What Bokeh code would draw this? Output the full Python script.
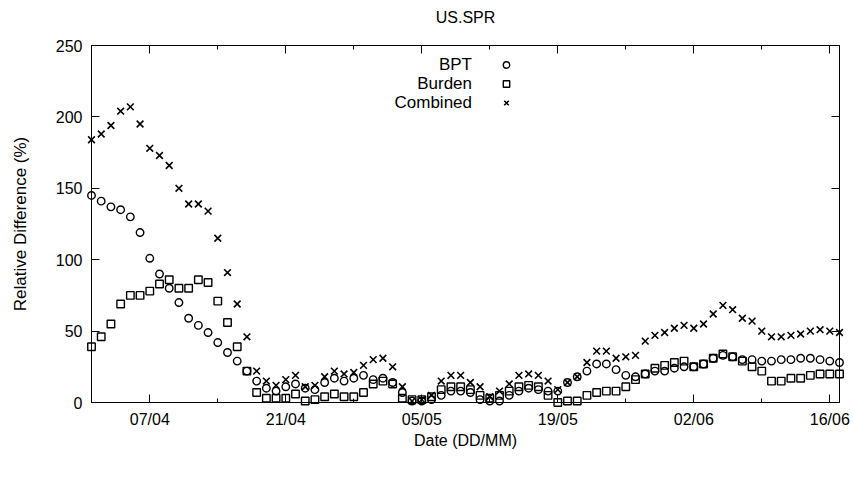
import pandas as pd
from bokeh.plotting import figure
from bokeh.models import (Range1d, DatetimeAxis, LinearAxis, FixedTicker,
                          DatetimeTickFormatter, Legend, LegendItem, Label,
                          ColumnDataSource, CustomJSTickFormatter)
from bokeh.embed import file_html
from bokeh.resources import INLINE

# ---------------- data ----------------
start_date = "2020-04-01"
end_date = "2020-06-17"
dates = pd.date_range(start_date, periods=78, freq="D")

bpt = [145, 141, 137, 135, 130, 119, 101, 90, 80, 70, 59, 54, 49, 42, 35, 29,
       22, 15, 10, 8, 11, 13, 10, 9, 14, 17, 15, 17, 19, 16, 17, 14, 7, 1, 1,
       2, 5, 8, 8, 7, 2, 1, 1, 5, 8, 10, 9, 8, 8, 14, 18, 22, 27, 27, 23, 19,
       18, 20, 22, 22, 24, 25, 25, 27, 31, 33, 32, 30, 30, 29, 29, 30, 30, 31,
       31, 30, 29, 28]
burden = [39, 46, 55, 69, 75, 75, 78, 83, 86, 80, 80, 86, 84, 71, 56, 39, 22,
          7, 3, 3, 3, 6, 1, 2, 4, 6, 4, 4, 7, 13, 15, 13, 3, 2, 2, 4, 9, 11,
          11, 9, 5, 3, 5, 8, 11, 12, 11, 5, 0, 1, 1, 5, 7, 8, 8, 11, 16, 20,
          24, 26, 28, 29, 25, 27, 31, 34, 32, 29, 25, 22, 15, 15, 17, 17, 19,
          20, 20, 20]
combined = [184, 188, 194, 204, 207, 195, 178, 173, 166, 150, 139, 139, 134,
            115, 91, 69, 46, 22, 15, 12, 16, 19, 11, 12, 18, 22, 20, 21, 26,
            30, 31, 25, 11, 1, 2, 5, 15, 19, 19, 14, 11, 4, 8, 13, 19, 20, 19,
            15, 9, 14, 18, 28, 36, 36, 31, 32, 33, 43, 47, 49, 52, 54, 52, 55,
            62, 68, 65, 59, 57, 50, 46, 46, 47, 48, 50, 51, 50, 49]

series_names = ["BPT", "Burden", "Combined"]
major_tick_dates = ["2020-04-07", "2020-04-21", "2020-05-05", "2020-05-19",
                    "2020-06-02", "2020-06-16"]
minor_tick_dates = ["2020-04-14", "2020-04-28", "2020-05-12", "2020-05-26",
                    "2020-06-09"]
y_ticks = [0, 50, 100, 150, 200, 250]

title_text = "US.SPR"
x_label = "Date (DD/MM)"
y_label = "Relative Difference (%)"

# ---------------- style ----------------
FONT = "Liberation Sans"
FS = "16px"
FS_KEY = "17px"
INK = "#000000"


def to_ms(d):
    return pd.Timestamp(d).value / 1e6


major_ms = [to_ms(d) for d in major_tick_dates]
minor_ms = [to_ms(d) for d in minor_tick_dates]

src = ColumnDataSource(dict(date=dates, bpt=bpt, burden=burden, combined=combined))

p = figure(width=853, height=483, output_backend="svg", toolbar_location=None,
           x_axis_type="datetime",
           x_range=Range1d(pd.Timestamp(start_date), pd.Timestamp(end_date)),
           y_range=Range1d(0, 250),
           min_border_left=91, min_border_right=14,
           min_border_top=45, min_border_bottom=81)
p.grid.visible = False
p.outline_line_color = INK
p.outline_line_width = 1
p.background_fill_color = "white"
p.border_fill_color = "white"
p.title.text = ""

fmt = DatetimeTickFormatter(days="%d/%m", months="%d/%m", years="%d/%m",
                            hours="%d/%m", hourmin="%d/%m", minutes="%d/%m",
                            minsec="%d/%m", seconds="%d/%m",
                            milliseconds="%d/%m", microseconds="%d/%m",
                            strip_leading_zeros=False, boundary_scaling=False,
                            context=None)
blank_fmt = CustomJSTickFormatter(code="return ''")


def style_axis(ax, labels=True):
    ax.major_tick_in = 8
    ax.major_tick_out = 0
    ax.minor_tick_in = 4
    ax.minor_tick_out = 0
    ax.major_tick_line_color = INK
    ax.minor_tick_line_color = INK
    ax.axis_line_color = INK
    ax.axis_label_text_font = FONT
    ax.axis_label_text_font_size = FS
    ax.axis_label_text_font_style = "normal"
    ax.axis_label_text_color = INK
    if labels:
        ax.major_label_text_font = FONT
        ax.major_label_text_font_size = FS
        ax.major_label_text_color = INK
    else:
        ax.formatter = blank_fmt
        ax.major_label_text_font_size = "1px"
        ax.major_label_standoff = 0


xaxis = p.xaxis[0]
xaxis.ticker = FixedTicker(ticks=major_ms, minor_ticks=minor_ms)
xaxis.formatter = fmt
xaxis.axis_label = x_label
style_axis(xaxis)
xaxis.major_label_standoff = 8
xaxis.axis_label_standoff = 1

yaxis = p.yaxis[0]
yaxis.ticker = FixedTicker(ticks=y_ticks, minor_ticks=[])
yaxis.axis_label = y_label
style_axis(yaxis)
yaxis.axis_label_text_font_size = FS_KEY
yaxis.major_label_standoff = 9
yaxis.axis_label_standoff = 23

# mirrored top axis; its axis label serves as the chart title, centred over the plot area
top_axis = DatetimeAxis(ticker=FixedTicker(ticks=major_ms, minor_ticks=minor_ms))
style_axis(top_axis, labels=False)
top_axis.axis_label = title_text
top_axis.axis_label_standoff = 20
p.add_layout(top_axis, "above")

right_axis = LinearAxis(ticker=FixedTicker(ticks=y_ticks, minor_ticks=[]))
style_axis(right_axis, labels=False)
p.add_layout(right_axis, "right")

LW = 1.4
r_bpt = p.scatter("date", "bpt", source=src, marker="circle", size=7.5,
                  fill_color=None, line_color=INK, line_width=LW, level="overlay")
r_bur = p.scatter("date", "burden", source=src, marker="square", size=7.5,
                  fill_color=None, line_color=INK, line_width=LW, level="overlay")
r_com = p.scatter("date", "combined", source=src, marker="x", size=9.5,
                  line_color=INK, line_width=1.6, level="overlay")

frame_bottom = 402

# gnuplot-style key: text right-aligned, symbol to the right
row_centers = [64, 83, 102]
text_right = 472 - 91.5
sym_center = 506 - 91.5
row_h = 19
for name, yc in zip(series_names, row_centers):
    p.add_layout(Label(x=text_right, y=frame_bottom - yc, x_units="screen",
                       y_units="screen", text=name, text_align="right",
                       text_baseline="middle", text_font=FONT,
                       text_font_size=FS_KEY, text_color=INK))

legend = Legend(items=[LegendItem(label=" ", renderers=[r]) for r in (r_bpt, r_bur, r_com)],
                location=(sym_center - 8, frame_bottom - (row_centers[0] - row_h / 2) - 3 * row_h),
                orientation="vertical", padding=0, margin=0, spacing=0,
                glyph_width=16, glyph_height=row_h, label_height=row_h,
                label_width=0, label_standoff=0, border_line_color=None,
                background_fill_alpha=0, label_text_font_size="8px")
p.add_layout(legend)

open("out.html", "w").write(file_html(p, INLINE))
